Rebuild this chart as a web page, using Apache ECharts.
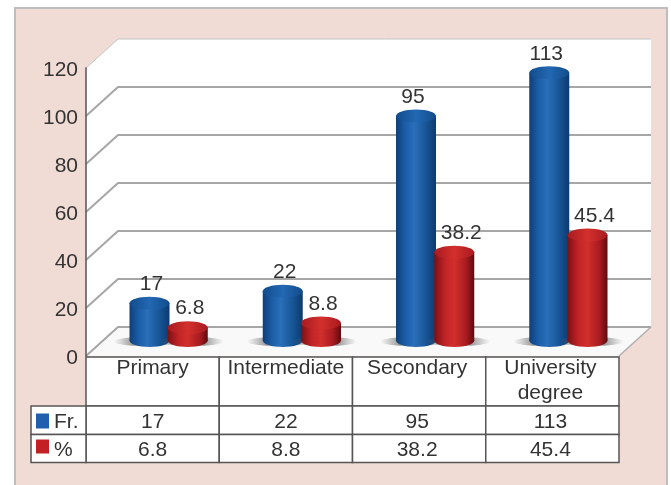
<!DOCTYPE html>
<html>
<head>
<meta charset="utf-8">
<style>html,body{margin:0;padding:0;background:#fff}#c{width:671px;height:485px}</style>
<script src="https://cdn.jsdelivr.net/npm/echarts@6/dist/echarts.min.js"></script>
</head>
<body>
<div id="c"></div>
<script>
const categories = ['Primary', 'Intermediate', 'Secondary', 'University\ndegree'];
const freq = [17, 22, 95, 113];
const pct = [6.8, 8.8, 38.2, 45.4];
const yTicks = [0, 20, 40, 60, 80, 100, 120];
const labelNudgeFr = [2, 2, -3, -3];
const labelNudgePct = [2, 2, 7, 7];
const tableTextNudge = [0, 0, -2, -2];

const FONT = '"Liberation Sans", Arial, sans-serif';
const TXT = '#333333';
const DX = 32, DY = 29;
const LINE = '#555555';

function hGrad(stops) {
  return { type: 'linear', x: 0, y: 0, x2: 1, y2: 0,
    colorStops: stops.map(s => ({ offset: s[0], color: s[1] })) };
}
const blue = {
  body: hGrad([[0, '#0f3f78'], [0.22, '#1b5ca6'], [0.45, '#2a6fba'], [0.75, '#175595'], [1, '#0c3a70']]),
  top: hGrad([[0, '#124c8c'], [0.5, '#2268b3'], [1, '#124c8c']])
};
const red = {
  body: hGrad([[0, '#7a1014'], [0.28, '#c32427'], [0.5, '#d12f2c'], [0.8, '#a81b20'], [1, '#5e0a0e']]),
  top: hGrad([[0, '#a81a1f'], [0.5, '#d3302d'], [1, '#a81a1f']])
};
const shadowFill = hGrad([[0, 'rgba(110,110,110,0)'], [0.3, 'rgba(90,90,90,0.6)'], [0.7, 'rgba(90,90,90,0.6)'], [1, 'rgba(110,110,110,0)']]);

function wallItem(params, api) {
  const cs = params.coordSys;
  const x0 = cs.x, x1 = cs.x + cs.width;
  const v = api.value(0);
  const y = api.coord([0, v])[1];
  const children = [];
  const top = api.coord([0, 120])[1], bot = api.coord([0, 0])[1];
  if (v === 0) {
    children.push({ type: 'polygon', shape: { points: [[x0, top], [x0 + DX, top - DY], [x1 + DX, top - DY], [x1 + DX, bot - DY], [x0 + DX, bot - DY], [x0, bot]] }, style: { fill: '#ffffff' } });
    children.push({ type: 'polygon', shape: { points: [[x0, bot], [x0 + DX, bot - DY], [x1 + DX, bot - DY], [x1, bot]] }, style: { fill: '#f9f9f9' } });
    children.push({ type: 'line', shape: { x1: x1, y1: bot, x2: x1 + DX, y2: bot - DY }, style: { stroke: '#b0b0b0', lineWidth: 1.5 } });
  }
  const isTop = v === 120;
  children.push({ type: 'polyline', shape: { points: [[x0, y], [x0 + DX, y - DY], [x1 + DX, y - DY]] },
    style: { fill: 'none', stroke: isTop ? '#c4c4c4' : '#a6a6a6', lineWidth: isTop ? 1 : 2 } });
  return { type: 'group', children: children };
}

function cylinderItem(theme, side, nudges) {
  return function (params, api) {
    const i = api.value(0), v = api.value(1);
    const band = api.size([1, 0])[0];
    const cx = api.coord([i, 0])[0] + 16 + side * band * 0.1435;
    const hw = 20, ry = 6.5;
    const yb = api.coord([i, 0])[1] - 15.5;
    const yt = api.coord([i, v])[1] - 12;
    return {
      type: 'group',
      children: [
        { type: 'ellipse', shape: { cx: cx + side * 4, cy: yb + 1, rx: 32, ry: 4.5 }, style: { fill: shadowFill } },
        { type: 'ellipse', shape: { cx: cx, cy: yb, rx: hw, ry: ry }, style: { fill: theme.body } },
        { type: 'rect', shape: { x: cx - hw, y: yt, width: hw * 2, height: yb - yt }, style: { fill: theme.body } },
        { type: 'ellipse', shape: { cx: cx, cy: yt, rx: hw, ry: ry }, style: { fill: theme.top } },
        { type: 'text', style: { text: String(v), x: cx + nudges[i], y: yt - 19, align: 'center', verticalAlign: 'middle', fill: TXT, font: '21px ' + FONT } }
      ]
    };
  };
}

function cellText(text, x, y, align) {
  return { type: 'text', style: { text: text, x: x, y: y, align: align || 'center', verticalAlign: 'middle', fill: TXT, font: '21px ' + FONT } };
}
function cell(x, y, w, h) {
  return { type: 'rect', shape: { x: x, y: y, width: w, height: h }, style: { fill: '#ffffff', stroke: LINE, lineWidth: 1.5 } };
}
function tableItem(params, api) {
  const i = api.value(0);
  const band = api.size([1, 0])[0];
  const cx = api.coord([i, 0])[0];
  const tx = cx + tableTextNudge[i];
  const y0 = api.coord([i, 0])[1] + 1;
  const left = cx - band / 2;
  const r1 = y0 + 49, r2 = r1 + 28.5, r3 = r2 + 28;
  const children = [
    cell(left, y0, band, r1 - y0),
    cell(left, r1, band, r2 - r1),
    cell(left, r2, band, r3 - r2),
    cellText(String(freq[i]), tx, r1 + 16),
    cellText(String(pct[i]), tx, r2 + 16)
  ];
  categories[i].split('\n').forEach(function (line, k) {
    children.push(cellText(line, tx, y0 + 11 + k * 25));
  });
  if (i === 0) {
    const lx = left - 55;
    children.push(
      cell(lx, r1, 55, r2 - r1),
      cell(lx, r2, 55, r3 - r2),
      { type: 'rect', shape: { x: lx + 5, y: r1 + 7.5, width: 13, height: 15 }, style: { fill: '#1f5fae' } },
      { type: 'rect', shape: { x: lx + 5, y: r2 + 5, width: 13, height: 14 }, style: { fill: '#c32024' } },
      cellText('Fr.', lx + 23, r1 + 16, 'left'),
      cellText('%', lx + 23, r2 + 16, 'left')
    );
  }
  return { type: 'group', children: children };
}

const chart = echarts.init(document.getElementById('c'), null, { renderer: 'canvas' });
chart.setOption({
  animation: false,
  backgroundColor: '#ffffff',
  tooltip: { show: false },
  graphic: {
    z: -100,
    elements: [{
      type: 'rect', z: -100,
      shape: { x: 15, y: 8, width: 652, height: 490 },
      style: { fill: '#f0dcd5', stroke: '#bdbdbd', lineWidth: 2 }
    }]
  },
  grid: { left: 86, width: 533, top: 68, height: 288, containLabel: false },
  xAxis: {
    type: 'category', data: categories,
    axisLine: { show: false }, axisTick: { show: false },
    splitLine: { show: false }, axisLabel: { show: false }
  },
  yAxis: {
    type: 'value', min: 0, max: 120, interval: 20,
    axisLine: { show: true, lineStyle: { color: LINE, width: 1.5 } },
    axisTick: { show: false }, splitLine: { show: false },
    axisLabel: {
      margin: 8, formatter: '{a|{value}}',
      rich: { a: { color: TXT, fontFamily: FONT, fontSize: 21, padding: [4, 0, 0, 0] } }
    }
  },
  series: [
    { type: 'custom', name: 'wall', z: -2, clip: false, silent: true, data: yTicks.map(t => [t]), encode: { y: 0 }, renderItem: wallItem },
    { type: 'custom', name: 'table', z: -1, clip: false, silent: true, data: categories.map((c, i) => [i]), encode: { x: 0 }, renderItem: tableItem },
    { type: 'custom', name: 'Fr.', z: 3, clip: false, data: freq.map((v, i) => [i, v]), encode: { x: 0, y: 1 }, renderItem: cylinderItem(blue, -1, labelNudgeFr) },
    { type: 'custom', name: '%', z: 4, clip: false, data: pct.map((v, i) => [i, v]), encode: { x: 0, y: 1 }, renderItem: cylinderItem(red, 1, labelNudgePct) }
  ]
});
</script>
</body>
</html>
